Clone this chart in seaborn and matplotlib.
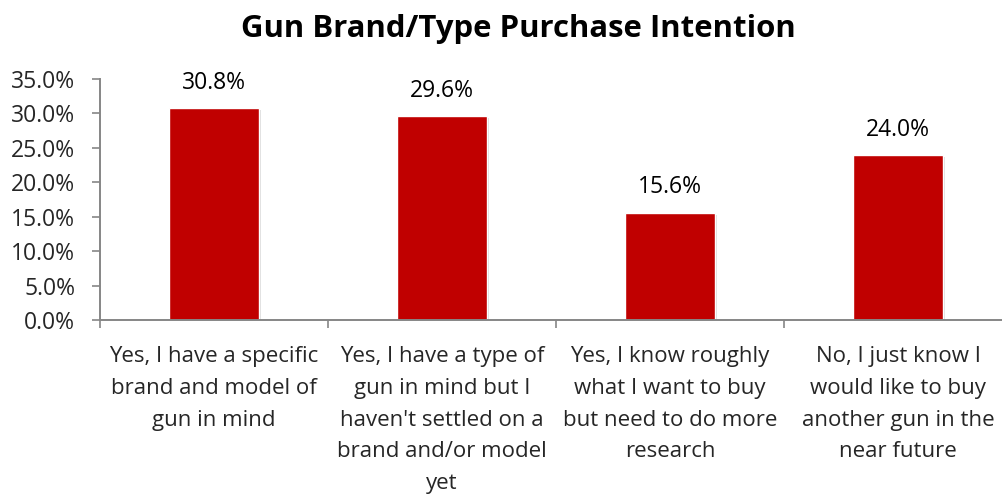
import matplotlib
matplotlib.use("Agg")
import matplotlib.pyplot as plt
import matplotlib.patheffects as pe
from matplotlib.ticker import FixedLocator, PercentFormatter
import pandas as pd
import seaborn as sns

# Survey answers and their shares
categories = [
    "Yes, I have a specific\nbrand and model of\ngun in mind",
    "Yes, I have a type of\ngun in mind but I\nhaven't settled on a\nbrand and/or model\nyet",
    "Yes, I know roughly\nwhat I want to buy\nbut need to do more\nresearch",
    "No, I just know I\nwould like to buy\nanother gun in the\nnear future",
]
shares = [0.308, 0.296, 0.156, 0.240]
y_ticks = [0.00, 0.05, 0.10, 0.15, 0.20, 0.25, 0.30, 0.35]
title = "Gun Brand/Type Purchase Intention"

bar_color = "#C00000"
axis_gray = "#868686"

sns.set_theme(style="white")
plt.rcParams["font.family"] = ["Open Sans", "DejaVu Sans"]

df = pd.DataFrame({"answer": categories, "share": shares})

fig = plt.figure(figsize=(10.02, 4.97), dpi=100)
ax = fig.add_axes([100 / 1002, 177 / 497, 912 / 1002, 241 / 497])

sns.barplot(data=df, x="answer", y="share", color=bar_color, width=0.395,
            saturation=1, ax=ax)

for bar in ax.patches:
    bar.set_path_effects([
        pe.SimplePatchShadow(offset=(1.5, -1.5), shadow_rgbFace="#999999", alpha=0.35),
        pe.Normal(),
    ])

n = len(categories)
ax.set_xlim(-0.5, n - 0.5)
ax.set_ylim(0, 0.35)

# Values above the bars
for i, v in enumerate(shares):
    ax.annotate(f"{v:.1%}", (i, v), xytext=(0, 9.5), textcoords="offset points",
                ha="center", va="bottom", fontsize=16.5, color="black")

# Y axis
ax.yaxis.set_major_locator(FixedLocator(y_ticks))
ax.yaxis.set_major_formatter(PercentFormatter(1.0, decimals=1))
ax.tick_params(axis="y", which="major", direction="out", length=6, width=1.2,
               color=axis_gray, labelsize=16.5, pad=12, left=True)

# X axis: labels at category centers, tick marks between categories
ax.set_xticks(range(n))
ax.set_xticklabels(categories)
ax.set_xticks([i - 0.5 for i in range(n + 1)], minor=True)
ax.tick_params(axis="x", which="major", length=0, labelsize=16, pad=19)
ax.tick_params(axis="x", which="minor", direction="out", length=6, width=1.2,
               color=axis_gray, bottom=True)
for lbl in ax.get_xticklabels():
    lbl.set_multialignment("center")
    lbl.set_linespacing(1.66)

ax.set_xlabel("")
ax.set_ylabel("")

for side in ["top", "right"]:
    ax.spines[side].set_visible(False)
for side in ["left", "bottom"]:
    ax.spines[side].set_color(axis_gray)
    ax.spines[side].set_linewidth(1.4)

fig.text(518 / 1002, 1 - 29 / 497, title, ha="center", va="center",
         fontsize=22.4, fontweight="bold", color="black")

fig.savefig("out.png", dpi=100, facecolor="white")
